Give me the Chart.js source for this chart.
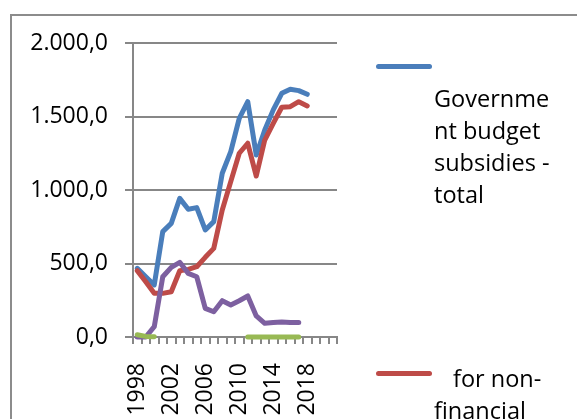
<!DOCTYPE html>
<html>
<head>
<meta charset="utf-8">
<script src="https://cdn.jsdelivr.net/npm/chart.js@4.4.0/dist/chart.umd.min.js"></script>
<style>
    html, body { margin: 0; padding: 0; background: #fff; width: 577px; height: 419px; overflow: hidden; }
    #frame { position: absolute; left: 10px; top: 14px; width: 700px; height: 600px; border: 2px solid #8c8c8c; box-sizing: border-box; }
    #chart { position: absolute; left: 0; top: 0; }
    .entry { position: absolute; left: 0; top: 0; font-family: "Open Sans", sans-serif; font-size: 23.5px; color: #000; }
    .swatch { position: absolute; left: 376px; width: 56px; height: 5px; border-radius: 3px; }
    .lbl { position: absolute; left: 434px; line-height: 32px; white-space: nowrap; }
</style>
</head>
<body>
<div id="frame"></div>
<canvas id="chart" width="577" height="419"></canvas>
<div id="legend"></div>
<script>
const years = ['1998', '1999', '2000', '2001', '2002', '2003', '2004', '2005', '2006', '2007', '2008', '2009',
    '2010', '2011', '2012', '2013', '2014', '2015', '2016', '2017', '2018', '2019', '2020', '2021'];

const total = [467, 410, 354, 717, 773, 943, 869, 880, 728, 785, 1114, 1261,
    1488, 1601, 1238, 1408, 1545, 1658, 1685, 1676, 1651, null, null, null];
const nonFinancial = [451, 376, 297, 297, 308, 451, 460, 478, 542, 603, 864, 1057,
    1250, 1318, 1095, 1340, 1454, 1563, 1567, 1601, 1572, null, null, null];
const financial = [0, 0, 70, 410, 474, 508, 433, 410, 195, 172, 247, 218,
    247, 279, 143, 93, 98, 102, 98, 98, null, null, null, null];
const other = [15, 4, 2, null, null, null, null, null, null, null, null, null,
    null, 0, 0, 0, 0, 0, 0, 0, null, null, null, null];

const yTicks = [0, 500, 1000, 1500, 2000];

// legend text wrapped the way the original box wraps it
const names = [
    ['Governme', 'nt budget', 'subsidies -', 'total'],
    ['for non-', 'financial', 'corporations'],
    ['for financial', 'corporations'],
    ['other']
];
const colors = ['#4a7ebb', '#be4b48', '#7d60a0', '#98b954'];
const series = [total, nonFinancial, financial, other];

const gray = '#878787';
const font = { family: '"Open Sans", sans-serif', size: 23 };

function fmt(v) {
    const p = v.toFixed(1).split('.');
    return p[0].replace(/\B(?=(\d{3})+(?!\d))/g, '.') + ',' + p[1];
}

// html legend, entries placed like the original
const legendPos = [
    { swatch: 63.5, text: 81.5, indent: 0 },
    { swatch: 370.5, text: 361.5, indent: 19 },
    { swatch: 600, text: 600, indent: 0 },
    { swatch: 800, text: 800, indent: 0 }
];
const legend = document.getElementById('legend');
names.forEach((lines, i) => {
    const e = document.createElement('div');
    e.className = 'entry';
    const sw = document.createElement('div');
    sw.className = 'swatch';
    sw.style.top = legendPos[i].swatch + 'px';
    sw.style.background = colors[i];
    const t = document.createElement('div');
    t.className = 'lbl';
    t.style.top = legendPos[i].text + 'px';
    t.style.textIndent = legendPos[i].indent + 'px';
    t.innerHTML = lines.join('<br>');
    e.appendChild(sw);
    e.appendChild(t);
    legend.appendChild(e);
});

new Chart(document.getElementById('chart').getContext('2d'), {
    type: 'line',
    data: {
        labels: years,
        datasets: series.map((d, i) => ({
            label: names[i].join(' '),
            data: d,
            borderColor: colors[i],
            backgroundColor: colors[i],
            clip: 6,
            order: series.length - i
        }))
    },
    options: {
        responsive: false,
        animation: false,
        devicePixelRatio: 1,
        layout: { padding: { left: 0, right: 240, top: 43, bottom: 0 } },
        plugins: { legend: { display: false }, tooltip: { enabled: false } },
        elements: {
            point: { radius: 0 },
            line: { borderWidth: 5, tension: 0, borderCapStyle: 'round', borderJoinStyle: 'round' }
        },
        scales: {
            x: {
                offset: true,
                grid: { offset: true, drawOnChartArea: false, drawTicks: true, tickLength: 7, color: gray, lineWidth: 2 },
                border: { color: gray, width: 2 },
                ticks: {
                    autoSkip: false, maxRotation: 90, minRotation: 90, padding: 19,
                    color: '#000', font: font,
                    callback: (v, i) => (i % 4 === 0 ? years[i] : '')
                },
                afterFit: s => { s.height = 82; }
            },
            y: {
                min: 0, max: 2000,
                afterBuildTicks: s => { s.ticks = yTicks.map(v => ({ value: v })); },
                grid: { color: gray, lineWidth: 2, tickLength: 8 },
                border: { color: gray, width: 2 },
                ticks: { padding: 17, color: '#000', font: font, callback: v => fmt(v) },
                afterFit: s => { s.width = 133; }
            }
        }
    }
});
</script>
</body>
</html>
